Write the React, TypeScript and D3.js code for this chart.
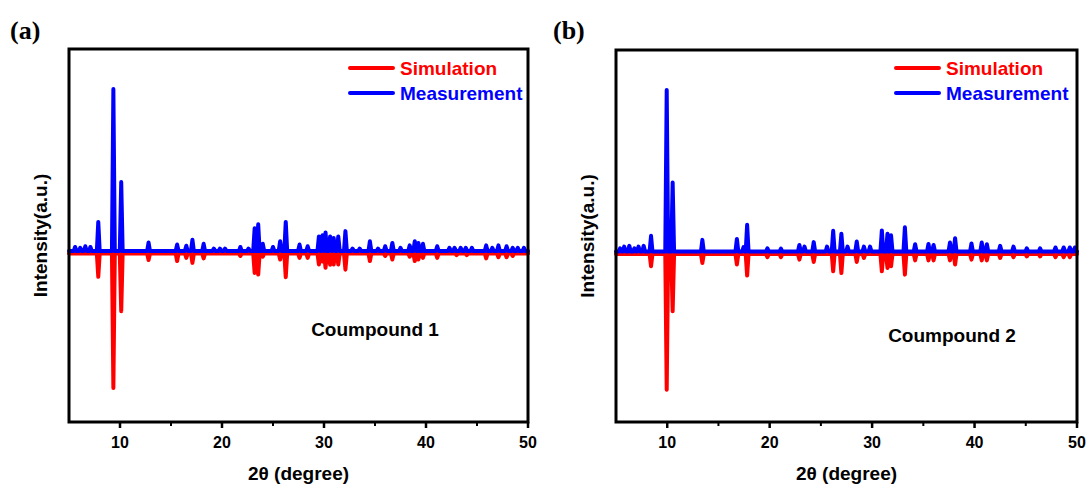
import React from "react";
import * as d3 from "d3";

// peak lists: [2theta, intensity]; simulation values are depths below the baseline
const A_MEAS: [number, number][] = [
  [5.6, 2.5], [6.1, 2], [6.6, 3], [7.1, 2.5], [7.87, 18], [9.35, 100], [10.12, 42.6],
  [12.8, 5.3], [15.6, 4], [16.5, 3.3], [17.1, 7], [18.2, 4.5], [19.2, 1.5], [19.8, 1.5],
  [20.3, 1.5], [21.8, 2.5], [22.6, 1.5], [23.2, 14], [23.55, 16.5], [24.0, 4.5], [25.0, 2.5],
  [25.7, 6], [26.25, 18], [27.6, 4], [28.4, 3], [29.5, 9], [29.85, 9.7], [30.15, 11.5],
  [30.6, 9], [30.95, 8], [31.4, 9], [32.1, 12.3], [32.8, 1.5], [33.5, 1.5], [34.5, 6],
  [35.3, 1.5], [36.0, 3], [36.7, 5], [37.5, 2], [38.4, 3.5], [38.9, 6], [39.25, 5],
  [39.7, 4.5], [41.1, 3], [42.3, 2], [42.8, 2], [43.4, 2], [43.9, 2], [44.5, 2],
  [45.9, 3.5], [46.5, 2], [47.1, 3.5], [47.9, 3], [48.5, 2], [49.0, 2], [49.6, 2],
];
const A_SIM: [number, number][] = [
  [7.87, 14.4], [9.35, 83], [10.12, 35.6], [12.8, 4], [15.6, 4.7], [16.5, 2.7], [17.1, 5.8],
  [18.2, 3], [21.8, 1.5], [23.2, 12], [23.55, 13], [24.0, 2], [25.7, 3.7], [26.25, 14.6],
  [27.6, 2.7], [28.4, 2.7], [29.5, 6.8], [29.85, 5], [30.15, 8.8], [30.6, 7], [30.95, 6.8],
  [31.4, 6.8], [32.1, 10], [34.5, 4.7], [36.0, 1.5], [36.7, 3.7], [38.4, 2], [38.9, 4.7],
  [39.25, 3.7], [39.7, 2.7], [41.1, 2.7], [43.0, 1], [44.0, 1], [45.9, 3], [47.1, 2.3],
  [47.9, 2.3], [48.5, 1.5],
];
const B_MEAS: [number, number][] = [
  [5.4, 2], [5.8, 3], [6.3, 3.5], [6.8, 2], [7.2, 3], [7.7, 3.5], [8.42, 9.7], [9.95, 100],
  [10.53, 42.7], [13.43, 7.2], [16.8, 7.8], [17.45, 2.7], [17.8, 16.5], [19.78, 2], [21.1, 1.8],
  [22.9, 4], [23.4, 3], [24.3, 5.8], [25.6, 3], [26.2, 12.8], [27.0, 11], [27.6, 3], [28.5, 6.2],
  [29.2, 3], [29.8, 3], [30.95, 13], [31.5, 11], [31.85, 10], [33.2, 15], [34.2, 4.5],
  [35.5, 4.7], [36.0, 4], [37.6, 5.6], [38.1, 8.2], [39.7, 5], [40.7, 5.6], [41.2, 4.5],
  [42.5, 3.5], [43.8, 3], [45.1, 2], [46.4, 2], [47.9, 2.5], [48.7, 2.5], [49.3, 2.5], [49.8, 2.5],
];
const B_SIM: [number, number][] = [
  [8.42, 7.6], [9.95, 84], [10.53, 35.5], [13.43, 5.6], [16.8, 6.6], [17.8, 13.4], [19.78, 2],
  [21.1, 2], [22.9, 3.5], [24.3, 5], [26.2, 10.7], [27.0, 11.8], [28.5, 5], [29.2, 2.5],
  [30.95, 10.7], [31.5, 8.7], [31.85, 7.6], [33.2, 12.8], [34.2, 4], [35.5, 4], [36.0, 4],
  [37.6, 4], [38.1, 6.6], [39.7, 3.5], [40.7, 4], [41.2, 4], [42.5, 2.5], [43.8, 2],
  [45.1, 1.5], [46.4, 1.5], [47.9, 2], [48.7, 2], [49.3, 2],
];
const SIM_BASE = -1.5;
const X_TICKS = [10, 20, 30, 40, 50];
const X_MINOR = [15, 25, 35, 45];
const LEGEND = ["Simulation", "Measurement"];

const RED = "#ff0000";
const BLUE = "#0000ff";
const FONT = "'Liberation Sans', Arial, sans-serif";
const HALF_W = 0.14;

// turn a peak list into a spike polyline
function spikes(peaks: [number, number][], base: number, sign: number): [number, number][] {
  const pts: [number, number][] = [[5, base]];
  peaks.forEach(([t, h]) => {
    pts.push([t - HALF_W, base], [t, base + sign * h], [t + HALF_W, base]);
  });
  pts.push([50, base]);
  return pts;
}

type PanelProps = {
  left: number; right: number; top: number; bottom: number;
  tag: string; tagX: number; meas: [number, number][]; sim: [number, number][];
  name: string; nameX: number; nameY: number; legendX: number;
};

function Panel(p: PanelProps) {
  const x = d3.scaleLinear().domain([5, 50]).range([p.left, p.right]);
  const y = d3.scaleLinear().domain([-105.5, 124.7]).range([p.bottom, p.top]);
  const line = d3.line<[number, number]>().x(d => x(d[0])).y(d => y(d[1]));
  const midX = (p.left + p.right) / 2;
  const midY = (p.top + p.bottom) / 2;
  return (
    <g>
      <text x={p.tagX} y={39} fontFamily="'Liberation Serif', 'Times New Roman', serif"
        fontWeight="bold" fontSize={26}>{p.tag}</text>
      <path d={line(spikes(p.sim, SIM_BASE, -1)) || ""} fill="none" stroke={RED}
        strokeWidth={4} strokeLinejoin="round" strokeLinecap="round" />
      <path d={line(spikes(p.meas, 0, 1)) || ""} fill="none" stroke={BLUE}
        strokeWidth={4} strokeLinejoin="round" strokeLinecap="round" />
      <rect x={p.left} y={p.top} width={p.right - p.left} height={p.bottom - p.top}
        fill="none" stroke="#000" strokeWidth={3} />
      {X_TICKS.map(t => (
        <g key={t}>
          <line x1={x(t)} x2={x(t)} y1={p.bottom} y2={p.bottom + 6} stroke="#000" strokeWidth={2.5} />
          <text x={x(t)} y={448} textAnchor="middle" fontFamily={FONT} fontWeight="bold"
            fontSize={16}>{t}</text>
        </g>
      ))}
      {X_MINOR.map(t => (
        <line key={t} x1={x(t)} x2={x(t)} y1={p.bottom} y2={p.bottom + 4} stroke="#000" strokeWidth={2} />
      ))}
      <text x={midX} y={480} textAnchor="middle" fontFamily={FONT} fontWeight="bold" fontSize={19}>
        2θ (degree)
      </text>
      <text transform={`translate(${p.left - 22},${midY}) rotate(-90)`} textAnchor="middle"
        fontFamily={FONT} fontWeight="bold" fontSize={19}>Intensity(a.u.)</text>
      {LEGEND.map((s, i) => (
        <g key={s}>
          <line x1={p.legendX} x2={p.legendX + 43} y1={68 + i * 25} y2={68 + i * 25}
            stroke={i === 0 ? RED : BLUE} strokeWidth={4} strokeLinecap="round" />
          <text x={p.legendX + 50} y={75 + i * 25} fontFamily={FONT} fontWeight="bold" fontSize={19}
            fill={i === 0 ? RED : BLUE}>{s}</text>
        </g>
      ))}
      <text x={p.nameX} y={p.nameY} textAnchor="middle" fontFamily={FONT} fontWeight="bold"
        fontSize={19}>{p.name}</text>
    </g>
  );
}

export default function App() {
  return (
    <svg width={1091} height={488} style={{ position: "absolute", left: 0, top: 0, background: "#fff" }}>
      <Panel left={69} right={528} top={49} bottom={422} tag="(a)" tagX={10} meas={A_MEAS} sim={A_SIM}
        name="Coumpound 1" nameX={375} nameY={336} legendX={350} />
      <Panel left={616} right={1077} top={50} bottom={422} tag="(b)" tagX={553} meas={B_MEAS} sim={B_SIM}
        name="Coumpound 2" nameX={952} nameY={342} legendX={896} />
    </svg>
  );
}
